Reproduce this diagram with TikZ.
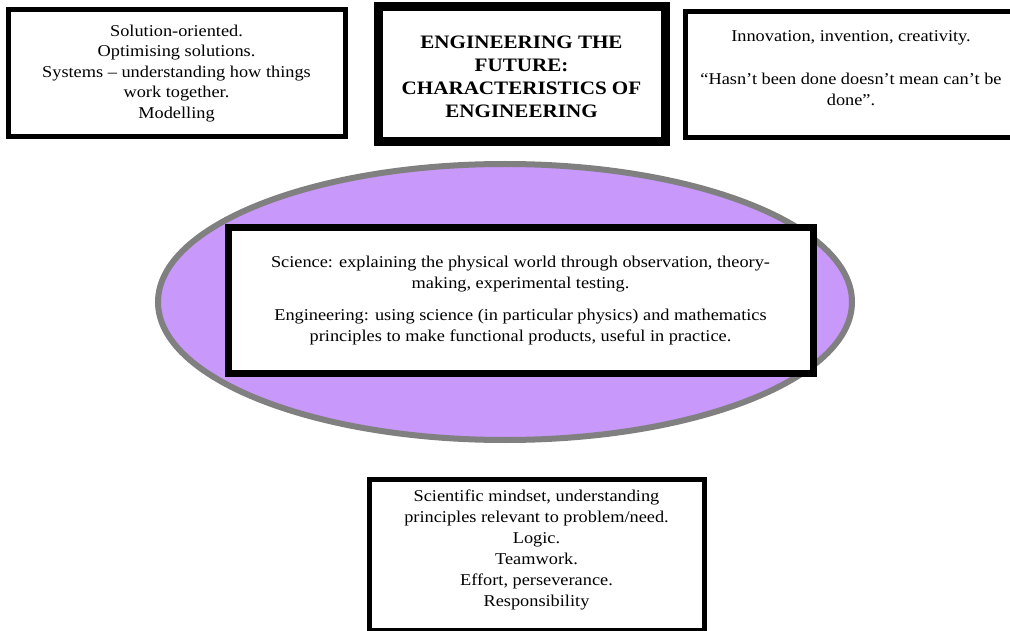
\documentclass[tikz,border=0pt]{standalone}
\usepackage{fontspec}
\usetikzlibrary{shapes.geometric}
\setmainfont{Liberation Serif}[FakeStretch=1.11]
\definecolor{ellfill}{RGB}{200,152,250}
\definecolor{ellline}{RGB}{128,128,128}
\tikzset{
  txt/.style={font=\fontsize{16.5}{20.5}\selectfont, align=center},
  box/.style={draw=black, fill=white, line width=5pt, inner sep=0pt, txt},
}
\begin{document}
\begin{tikzpicture}[x=1pt,y=-1pt]
\useasboundingbox (0,0) rectangle (1010,631);
\clip (0,0) rectangle (1010,631);
\node[box, minimum width=337pt, minimum height=127pt] (sol) at (176.5,73.5)
  {Solution-oriented.\\Optimising solutions.\\Systems -- understanding how things\\work together.\\Modelling};
\node[box, line width=9pt, minimum width=287pt, minimum height=135pt] (title) at (521.5,74.5) {};
\node[txt, font=\fontsize{19}{23}\selectfont\bfseries] (titletxt) at (521.5,77)
  {ENGINEERING THE\\FUTURE:\\CHARACTERISTICS OF\\ENGINEERING};
\node[box, minimum width=340pt, minimum height=126pt] (inn) at (855,75) {};
\node[txt] (inntxt) at (851,68)
  {Innovation, invention, creativity.\\[23pt]“Hasn’t been done doesn’t mean can’t be\\done”.};
\node[ellipse, draw=ellline, fill=ellfill, line width=6pt, minimum width=694pt, minimum height=276pt, inner sep=0pt] (ell) at (505,302) {};
\node[box, line width=7pt, minimum width=585pt, minimum height=145pt] (sci) at (520.5,300.5)
  {Science: explaining the physical world through observation, theory-\\making, experimental testing.\\[12pt]Engineering: using science (in particular physics) and mathematics\\principles to make functional products, useful in practice.};
\node[box, minimum width=335pt, minimum height=151pt] (mind) at (536.5,554.5) {};
\node[txt, font=\fontsize{16.5}{21}\selectfont] (mindtxt) at (536.5,550)
  {Scientific mindset, understanding\\principles relevant to problem/need.\\Logic.\\Teamwork.\\Effort, perseverance.\\Responsibility};
\end{tikzpicture}
\end{document}
